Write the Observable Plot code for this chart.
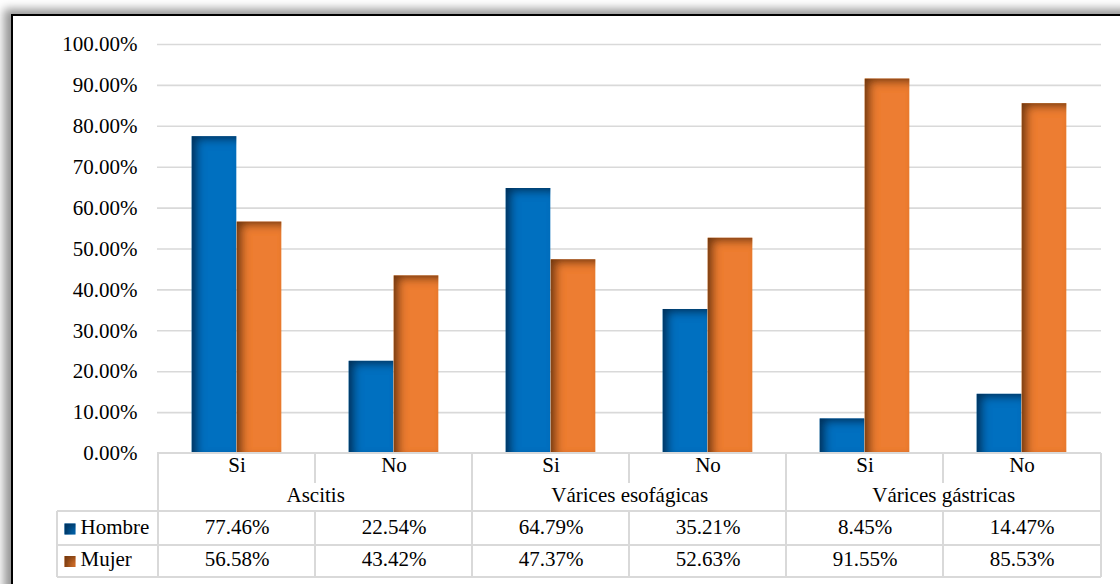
<!DOCTYPE html>
<html>
<head>
<meta charset="utf-8">
<script src="https://cdn.jsdelivr.net/npm/d3@7"></script>
<script src="https://cdn.jsdelivr.net/npm/@observablehq/plot@0.6"></script>
<style>
  html, body { margin: 0; padding: 0; background: #fff; overflow: hidden; }
  body { width: 1120px; height: 584px; position: relative; }
  #frame {
    position: absolute; left: 11px; top: 14px; width: 1200px; height: 700px;
    border: 2px solid #000; background: #fff;
    box-shadow: -5px -3px 9px 2px rgba(0,0,0,0.42);
  }
  #chart { position: absolute; left: 0; top: 0; width: 1120px; height: 584px; }
</style>
</head>
<body>
<div id="frame"></div>
<div id="chart"></div>
<script>
// Complicaciones por sexo (porcentaje dentro de cada respuesta)
const groups = ["Ascitis", "Várices esofágicas", "Várices gástricas"];
const answers = ["Si", "No"];
const series = ["Hombre", "Mujer"];
const hombre = [77.46, 22.54, 64.79, 35.21, 8.45, 14.47];
const mujer = [56.58, 43.42, 47.37, 52.63, 91.55, 85.53];
const yTicks = [0, 10, 20, 30, 40, 50, 60, 70, 80, 90, 100];

const blue = "#0070C0";
const orange = "#ED7D31";
const lineGray = "#d9d9d9";
const serifFont = "Liberation Serif";
const fontPx = 21;

// one row per category column: group × answer
const columns = groups.flatMap(g => answers.map(a => ({group: g, answer: a, key: `${g}|${a}`})));
const hombreRows = columns.map((c, i) => ({...c, value: hombre[i]}));
const mujerRows = columns.map((c, i) => ({...c, value: mujer[i]}));
const groupRows = columns.filter(c => c.answer === answers[0]);

const fmt = v => v.toFixed(2) + "%";

// data table grid under the plot area
function tableLines(index, scales, values, dims) {
  const x = scales.x;
  const top = dims.height - dims.marginBottom;
  const left = dims.marginLeft;
  const right = dims.width - dims.marginRight;
  const legendLeft = 57;
  const headerBottom = top + 30, row1 = top + 58, row2 = top + 92, bottom = top + 124;
  const g = d3.create("svg:g").attr("stroke", lineGray).attr("stroke-width", 2).attr("fill", "none");
  const line = (x1, y1, x2, y2) => g.append("line").attr("x1", x1).attr("y1", y1).attr("x2", x2).attr("y2", y2);
  line(left, top, right, top);
  line(legendLeft, row1, right, row1);
  line(legendLeft, row2, right, row2);
  line(legendLeft, bottom, right, bottom);
  line(legendLeft, row1, legendLeft, bottom);
  columns.forEach(c => {
    const x0 = x(c.key);
    if (c.answer === answers[0]) {
      line(x0, top, x0, bottom);
    } else {
      line(x0, top, x0, headerBottom);
      line(x0, row1, x0, bottom);
    }
  });
  line(right, top, right, bottom);
  return g.node();
}

const textStyle = {fill: "#000", fontSize: fontPx, fontFamily: serifFont};

const plot = Plot.plot({
  width: 1120,
  height: 584,
  marginTop: 44,
  marginBottom: 131,
  marginLeft: 157,
  marginRight: 19,
  style: {background: "transparent", color: "#000", fontFamily: serifFont, fontSize: fontPx + "px", overflow: "visible"},
  x: {domain: columns.map(c => c.key), padding: 0, axis: null},
  y: {domain: [0, 100], ticks: yTicks, tickFormat: fmt, tickSize: 0, tickPadding: 20, label: null},
  marks: [
    Plot.ruleY(yTicks.filter(t => t > 0), {stroke: lineGray, strokeWidth: 1.6}),
    Plot.barY(hombreRows, {x: "key", y: "value", fill: blue, insetLeft: 33.7, insetRight: 78.7}),
    Plot.barY(mujerRows, {x: "key", y: "value", fill: orange, insetLeft: 78.7, insetRight: 33.7}),
    tableLines,
    // answer row
    Plot.text(columns, {x: "key", text: "answer", frameAnchor: "bottom", dy: 18, ...textStyle}),
    // group row, centred across its two answers
    Plot.text(groupRows, {x: "key", text: "group", frameAnchor: "bottom", dx: 78.67, dy: 48, ...textStyle}),
    // series rows
    Plot.text(hombreRows, {x: "key", text: d => fmt(d.value), frameAnchor: "bottom", dy: 80, ...textStyle}),
    Plot.text(mujerRows, {x: "key", text: d => fmt(d.value), frameAnchor: "bottom", dy: 112, ...textStyle}),
    Plot.text([series[0]], {text: d => d, frameAnchor: "bottom-left", textAnchor: "start", dx: -77, dy: 80, ...textStyle}),
    Plot.text([series[1]], {text: d => d, frameAnchor: "bottom-left", textAnchor: "start", dx: -77, dy: 112, ...textStyle}),
    Plot.dot([series[0]], {frameAnchor: "bottom-left", dx: -87.5, dy: 75.5, symbol: "square", r: 6.2, fill: blue, stroke: null}),
    Plot.dot([series[1]], {frameAnchor: "bottom-left", dx: -87.5, dy: 108, symbol: "square", r: 6.2, fill: orange, stroke: null})
  ]
});

const svg = d3.select(plot);
// serif type throughout, as in the tick labels and table
svg.selectAll("text").attr("font-family", serifFont).attr("font-size", fontPx);

// inner shadow on the top and left edges of bars and legend keys
svg.insert("defs", ":first-child").html(`
  <filter id="inset" filterUnits="userSpaceOnUse" x="0" y="0" width="1120" height="584">
    <feComponentTransfer in="SourceAlpha" result="inv">
      <feFuncA type="table" tableValues="1 0"/>
    </feComponentTransfer>
    <feGaussianBlur in="inv" stdDeviation="4"/>
    <feOffset dx="6" dy="4" result="offsetblur"/>
    <feFlood flood-color="#000" flood-opacity="0.8"/>
    <feComposite in2="offsetblur" operator="in"/>
    <feComposite in2="SourceAlpha" operator="in" result="shadow"/>
    <feMerge><feMergeNode in="SourceGraphic"/><feMergeNode in="shadow"/></feMerge>
  </filter>`);
svg.selectAll('g[aria-label="bar"], g[aria-label="dot"]').attr("filter", "url(#inset)");

document.getElementById("chart").append(plot);
</script>
</body>
</html>
